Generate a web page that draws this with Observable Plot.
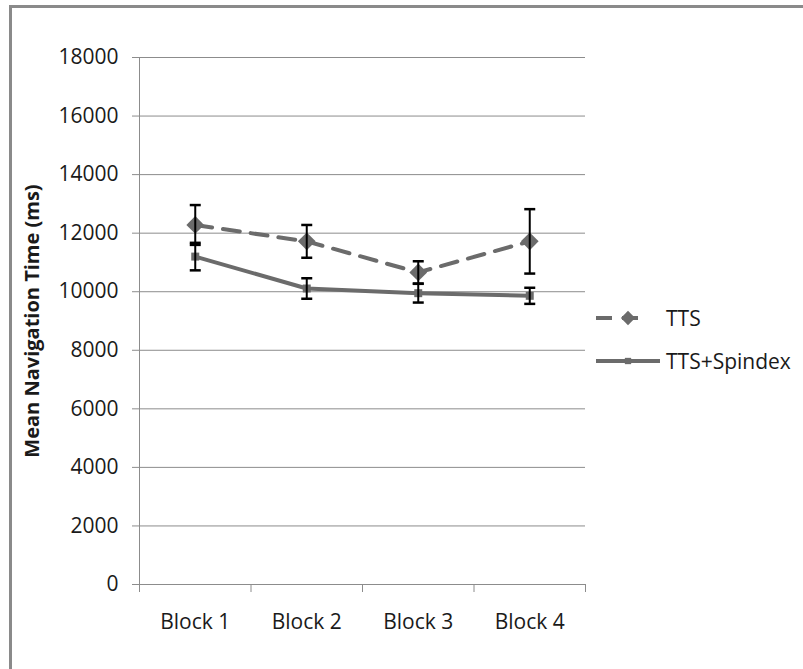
<!DOCTYPE html>
<html>
<head>
<meta charset="utf-8">
<script src="https://cdn.jsdelivr.net/npm/d3@7"></script>
<script src="https://cdn.jsdelivr.net/npm/@observablehq/plot@0.6"></script>
<style>
  html, body { margin: 0; padding: 0; background: #fff; }
  #wrap { position: relative; width: 803px; height: 669px; overflow: hidden; font-family: "Open Sans", sans-serif; }
  #frame { position: absolute; left: 9px; top: 5px; width: 900px; height: 800px;
           border-left: 3px solid #8a8a8a; border-top: 3px solid #8a8a8a; pointer-events: none; }
  #legend { position: absolute; left: 596px; top: 303px; font-size: 21px; color: #1a1a1a; }
  .row { display: flex; align-items: center; height: 30px; margin-bottom: 13px; }
  .row svg { display: block; margin-right: 6px; }
</style>
</head>
<body>
<div id="wrap">
  <div id="chart"></div>
  <div id="legend"></div>
  <div id="frame"></div>
</div>
<script>
// Mean navigation time per block, with error bar half-widths (ms)
const blocks = ["Block 1", "Block 2", "Block 3", "Block 4"];
const ttsMean = [12280, 11720, 10660, 11720];
const ttsErr = [680, 560, 380, 1100];
const spindexMean = [11200, 10110, 9950, 9860];
const spindexErr = [470, 350, 320, 275];
const yTicks = [0, 2000, 4000, 6000, 8000, 10000, 12000, 14000, 16000, 18000];

const seriesColor = "#6b6b6b";
const gridColor = "#8c8c8c";

const tts = blocks.map((b, i) => ({block: b, pos: i + 0.5, mean: ttsMean[i], err: ttsErr[i]}));
const spindex = blocks.map((b, i) => ({block: b, pos: i + 0.5, mean: spindexMean[i], err: spindexErr[i]}));
const both = [...tts, ...spindex];

// short horizontal stroke used as the error bar cap
const cap = {draw(ctx) { ctx.moveTo(-5.5, 0); ctx.lineTo(5.5, 0); }};

const chart = Plot.plot({
  width: 803,
  height: 669,
  marginLeft: 139,
  marginRight: 218,
  marginTop: 57,
  marginBottom: 85,
  style: {fontFamily: "Open Sans", fontSize: "21px", background: "transparent", color: "#1a1a1a"},
  x: {type: "linear", domain: [0, blocks.length]},
  y: {domain: [0, 18000]},
  marks: [
    Plot.gridY(yTicks, {stroke: gridColor, strokeOpacity: 1}),
    Plot.axisY({ticks: yTicks, tickSize: 7, tickPadding: 14, tickFormat: d => String(d), stroke: gridColor, label: null, fontSize: 21}),
    Plot.ruleX([0], {stroke: gridColor}),
    Plot.ruleY([0], {stroke: gridColor}),
    // category boundaries
    Plot.axisX({ticks: d3.range(blocks.length + 1), tickSize: 8, tickFormat: () => "", stroke: gridColor, label: null}),
    // category labels
    Plot.axisX({ticks: tts.map(d => d.pos), tickSize: 0, tickPadding: 30, tickFormat: (d, i) => blocks[i], label: null, fontSize: 21}),
    Plot.text(["Mean Navigation Time (ms)"], {frameAnchor: "left", textAnchor: "middle", dx: -107, rotate: -90, fontWeight: "bold", fontSize: 20}),
    Plot.line(tts, {x: "pos", y: "mean", stroke: seriesColor, strokeWidth: 4, strokeDasharray: "17,11"}),
    Plot.line(spindex, {x: "pos", y: "mean", stroke: seriesColor, strokeWidth: 4}),
    Plot.dot(tts, {x: "pos", y: "mean", symbol: "diamond2", r: 8, fill: seriesColor, stroke: "none"}),
    Plot.dot(spindex, {x: "pos", y: "mean", symbol: "square", r: 4.5, fill: seriesColor, stroke: "none"}),
    Plot.ruleX(both, {x: "pos", y1: d => d.mean - d.err, y2: d => d.mean + d.err, stroke: "#000", strokeWidth: 2}),
    Plot.dot(both, {x: "pos", y: d => d.mean + d.err, symbol: cap, stroke: "#000", strokeWidth: 2.5, fill: "none"}),
    Plot.dot(both, {x: "pos", y: d => d.mean - d.err, symbol: cap, stroke: "#000", strokeWidth: 2.5, fill: "none"})
  ]
});
document.getElementById("chart").appendChild(chart);

// legend
const legend = d3.select("#legend");
const entries = [
  {label: "TTS", dash: "16,10", symbol: d3.symbolDiamond2, size: 130},
  {label: "TTS+Spindex", dash: null, symbol: d3.symbolSquare, size: 40}
];
for (const e of entries) {
  const row = legend.append("div").attr("class", "row");
  const svg = row.append("svg").attr("width", 64).attr("height", 20);
  svg.append("line").attr("x1", 0).attr("x2", e.dash ? 50 : 64).attr("y1", 10).attr("y2", 10)
    .attr("stroke", seriesColor).attr("stroke-width", 4).attr("stroke-dasharray", e.dash);
  svg.append("path").attr("transform", "translate(32,10)")
    .attr("d", d3.symbol(e.symbol, e.size)()).attr("fill", seriesColor);
  row.append("span").text(e.label);
}
</script>
</body>
</html>
